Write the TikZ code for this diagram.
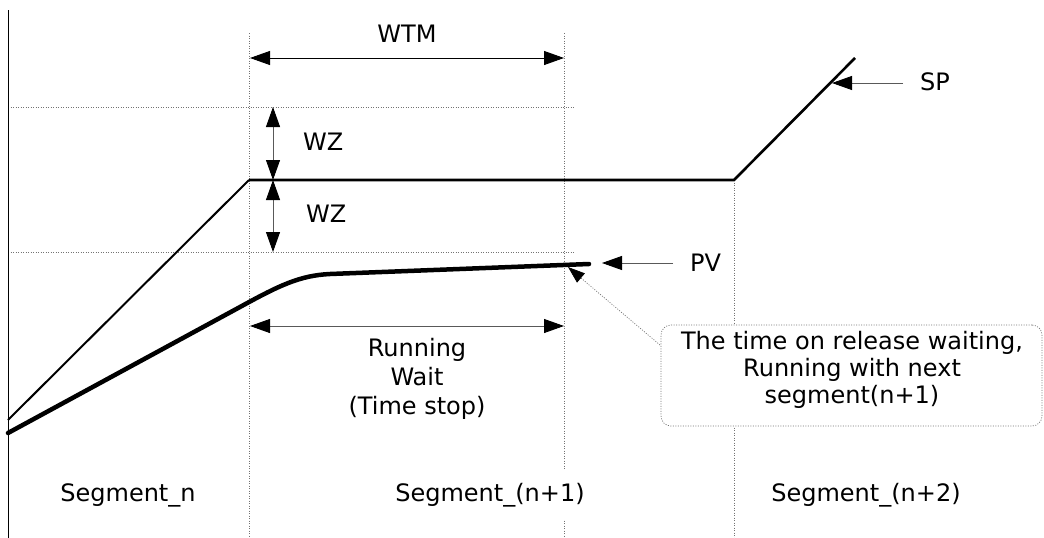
\documentclass[tikz,border=0pt]{standalone}
\usepackage{fontspec}
\setmainfont{DejaVu Sans}
\usetikzlibrary{arrows.meta}
\tikzset{
  tri/.tip={Triangle[length=20pt,width=14pt,color=black,fill=black]},
  smalltri/.tip={Triangle[length=17pt,width=12pt,color=black,fill=black]},
  lbl/.style={font=\fontsize{24}{29}\selectfont, inner sep=0pt, text=black},
  gridline/.style={draw=black!55, line width=0.7pt, dash pattern=on 1pt off 1.5pt},
  dimline/.style={line width=0.9pt, draw=black!65, tri-tri},
  pointer/.style={line width=0.9pt, draw=black!65, -tri},
  pvline/.style={line width=4.5pt, line cap=round, line join=round},
  calloutbox/.style={draw=black!55, fill=white, line width=0.7pt, dash pattern=on 1pt off 1.5pt,
    rounded corners=10pt, minimum width=381pt, minimum height=101pt, inner sep=0pt},
  seglbl/.style={lbl, anchor=base, fill=white, inner xsep=0pt, inner ysep=13pt},
}
\begin{document}
\begin{tikzpicture}[x=1pt,y=-1pt]
\fill[white] (0,0) rectangle (1044,538);
\useasboundingbox (0,0) rectangle (1044,538);

% coordinates
\coordinate (axtop) at (8,10);
\coordinate (axbot) at (8,538);
\coordinate (g1t) at (249,33);  \coordinate (g1b) at (249,538);
\coordinate (g2t) at (564,33);  \coordinate (g2b) at (564,538);
\coordinate (g3t) at (734,180); \coordinate (g3b) at (734,538);
\coordinate (h1l) at (8,107);   \coordinate (h1r) at (575,107);
\coordinate (h2l) at (8,252);   \coordinate (h2r) at (575,252);

% grid
\draw[gridline] (g1t) -- (g1b);
\draw[gridline] (g2t) -- (g2b);
\draw[gridline] (g3t) -- (g3b);
\draw[gridline] (h1l) -- (h1r);
\draw[gridline] (h2l) -- (h2r);

% axis
\draw[line width=0.9pt] (axtop) -- (axbot);

% SP curve
\coordinate (sp0) at (8,420);
\coordinate (sp1) at (249,180);
\coordinate (sp2) at (734,180);
\coordinate (sp3) at (855,58);
\draw[line width=2pt] (sp0) -- (sp1);
\draw[line width=2.6pt, line join=miter] (sp1) -- (sp2) -- (sp3);

% PV curve
\coordinate (pv0) at (8,433);
\coordinate (pv1) at (240,307);
\coordinate (pv2) at (330,274);
\coordinate (pv3) at (589,264);
\draw[pvline] (pv0) -- (pv1) .. controls (280,285) and (300,275.5) .. (pv2) -- (pv3);

% WTM
\coordinate (wtmL) at (250,58);
\coordinate (wtmR) at (564,58);
\draw[dimline, draw=black] (wtmL) -- (wtmR);
\node[lbl, anchor=base] (wtm) at (407,42) {WTM};

% WZ
\coordinate (wz1) at (273,107);
\coordinate (wz2) at (273,180);
\coordinate (wz3) at (273,252);
\draw[dimline] (wz1) -- (wz2);
\draw[dimline] (wz2) -- (wz3);
\node[lbl, anchor=base west] (wza) at (303,150) {WZ};
\node[lbl, anchor=base west] (wzb) at (306,222) {WZ};

% Running wait
\coordinate (rwL) at (250,326);
\coordinate (rwR) at (564,326);
\draw[dimline] (rwL) -- (rwR);
\node[lbl, align=center] (rw) at (417,379) {Running\\Wait\\(Time stop)};

% SP pointer
\node[lbl, anchor=base west] (splbl) at (920,90) {SP};
\coordinate (sptail) at (903,83);
\coordinate (sptip) at (832,83);
\draw[pointer] (sptail) -- (sptip);

% PV pointer
\node[lbl, anchor=base west] (pvlbl) at (690,271) {PV};
\coordinate (pvtail) at (673,263);
\coordinate (pvtip) at (602,263);
\draw[pointer] (pvtail) -- (pvtip);

% callout
\node[calloutbox] (cbox) at (851.5,375.5) {};
\node[lbl, align=center, font=\fontsize{24}{27}\selectfont] (ctext) at (852,369.5)
  {The time on release waiting,\\Running with next\\segment(n+1)};
\coordinate (ctip) at (568,267);
\coordinate (ctail) at (660,345);
\draw[gridline, -smalltri] (ctail) -- (ctip);

% segment labels
\node[seglbl] (segn) at (128,501) {Segment\_n};
\node[seglbl] (segn1) at (490,501) {Segment\_(n+1)};
\node[seglbl] (segn2) at (866,501) {Segment\_(n+2)};
\end{tikzpicture}
\end{document}
